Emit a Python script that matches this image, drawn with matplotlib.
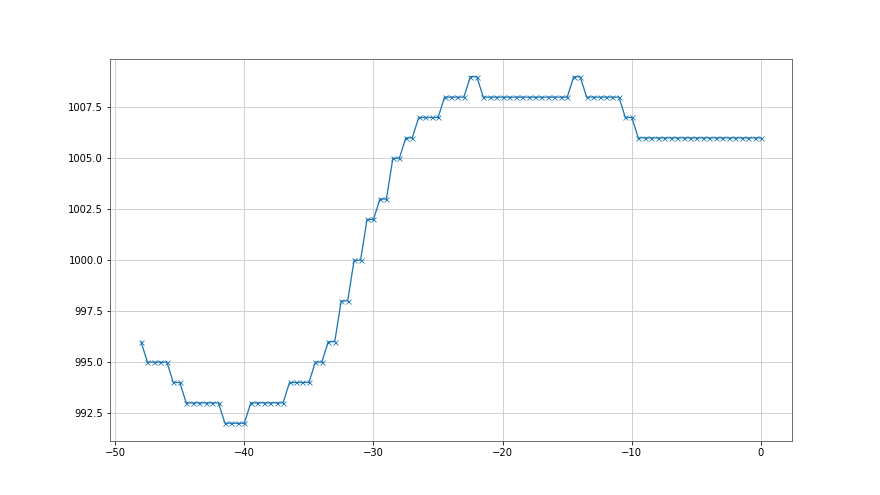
import matplotlib
matplotlib.use('Agg')
import matplotlib.pyplot as plt
import numpy as np

# x positions: -48 .. 0 in half steps
x = np.arange(-48, 0.5, 0.5)

# values, level and how many points stay on it
levels = [996, 995, 994, 993, 992, 993, 994, 995, 996, 998, 1000, 1002,
          1003, 1005, 1006, 1007, 1008, 1009, 1008, 1009, 1008, 1007, 1006]
counts = [1, 4, 2, 6, 4, 6, 4, 2, 2, 2, 2, 2,
          2, 2, 2, 4, 4, 2, 14, 2, 6, 2, 20]
y = np.repeat(levels, counts)

fig = plt.figure(figsize=(880 / 72, 495 / 72), dpi=72)
ax = plt.gca()
plt.plot(x, y, marker='x', markersize=5, markeredgewidth=0.8, linewidth=1.3)
plt.grid(True, color='0.78')
for s in ax.spines.values():
    s.set_color('0.3')

plt.savefig('out.png', dpi=72)
